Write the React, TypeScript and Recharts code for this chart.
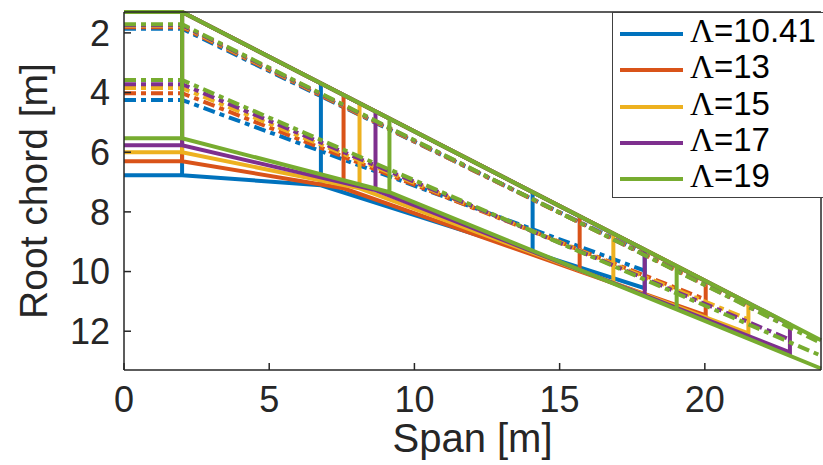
import React from 'react';
import { LineChart, Line, XAxis, YAxis, Legend } from 'recharts';

// one wing per aspect ratio
const labels = ['10.41', '13', '15', '17', '19'];
const colors = ['#0072BD', '#D95319', '#EDB120', '#7E2F8E', '#77AC30'];

const xTicks = [0, 5, 10, 15, 20];
const yTicks = [2, 4, 6, 8, 10, 12];

// span stations [m]
const fuselageX = 2;
const kinkX = [6.78, 7.56, 8.11, 8.66, 9.14];
const ribX = [14.07, 15.69, 16.85, 17.93, 19.03];
const tipX = [17.93, 20.03, 21.5, 22.93, 24]; // green tip lies past the axis edge

// leading edge
const leRoot = 1.3;
const leKink = [3.69, 4.08, 4.36, 4.63, 4.87];
const leRib = [7.34, 8.15, 8.73, 9.27, 9.82];
const leTip = [9.27, 10.32, 11.05, 11.77, 12.3];

// trailing edge
const teRoot = [6.77, 6.3, 6.0, 5.77, 5.53];
const teKink = [7.11, 7.21, 7.21, 7.27, 7.34];
const teRib = [9.36, 9.99, 10.38, 10.8, 11.27];
const teTip = [10.56, 11.47, 12.07, 12.71, 13.25];

// spars (dash-dot)
const frontSparRoot = [1.86, 1.81, 1.77, 1.74, 1.71];
const frontSparTip = [9.4, 10.44, 11.15, 11.86, 12.4];
const rearSparRoot = [4.25, 4.02, 3.85, 3.72, 3.58];
const rearSparTip = [9.97, 10.94, 11.6, 12.28, 12.82];

const X_MAX = 24;
const FONT = '"Liberation Sans", Arial, Helvetica, sans-serif';
const AXIS_COLOR = '#262626';
const LINE_W = 4;
const DASH_DOT = '12 5 5 5';

type Pt = { x: number; y: number | null };
const gap = (x: number): Pt => ({ x, y: null });

function outline(i: number): Pt[] {
  const tipInView = tipX[i] < X_MAX;
  return [
    { x: 0, y: leRoot },
    { x: fuselageX, y: leRoot },
    { x: tipX[i], y: leTip[i] },
    ...(tipInView ? [] : [gap(tipX[i])]),
    { x: tipX[i], y: teTip[i] },
    { x: ribX[i], y: teRib[i] },
    { x: kinkX[i], y: teKink[i] },
    { x: fuselageX, y: teRoot[i] },
    { x: 0, y: teRoot[i] },
    gap(0),
    { x: fuselageX, y: leRoot },
    { x: fuselageX, y: teRoot[i] },
    gap(fuselageX),
    { x: kinkX[i], y: leKink[i] },
    { x: kinkX[i], y: teKink[i] },
    gap(kinkX[i]),
    { x: ribX[i], y: leRib[i] },
    { x: ribX[i], y: teRib[i] },
  ];
}

function spar(root: number[], tip: number[], i: number): Pt[] {
  return [
    { x: 0, y: root[i] },
    { x: fuselageX, y: root[i] },
    { x: tipX[i], y: tip[i] },
  ];
}

const LegendBox = () => (
  <div
    style={{
      width: 220,
      height: 186,
      boxSizing: 'border-box',
      background: '#fff',
      border: '1.5px solid #404040',
      paddingTop: 3,
      fontFamily: FONT,
    }}
  >
    {labels.map((l, i) => (
      <div key={l} style={{ display: 'flex', alignItems: 'center', height: 36.3 }}>
        <div style={{ marginLeft: 7, width: 63, height: 4, background: colors[i] }} />
        <span
          style={{
            marginLeft: 7,
            fontSize: 33,
            lineHeight: '36px',
            color: '#000',
            position: 'relative',
            top: -3,
          }}
        >
          <span style={{ fontFamily: '"Liberation Serif", "Times New Roman", serif' }}>Λ</span>={l}
        </span>
      </div>
    ))}
  </div>
);

export default function App() {
  const axisLine = { stroke: AXIS_COLOR, strokeWidth: 1.5 };
  const tickStyle = { fontSize: 36, fill: AXIS_COLOR, fontFamily: FONT };

  return (
    <div style={{ position: 'absolute', left: 0, top: 0, background: '#fff' }}>
      <LineChart width={823} height={465} margin={{ top: 0, right: 0, bottom: 0, left: 0 }}>
        <XAxis
          dataKey="x"
          type="number"
          domain={[0, X_MAX]}
          ticks={xTicks}
          interval={0}
          height={95}
          axisLine={axisLine}
          tickLine={axisLine}
          tickSize={-7}
          tickMargin={23}
          tick={tickStyle}
          label={{
            value: 'Span [m]',
            position: 'insideBottom',
            offset: 13,
            style: { fontSize: 40, fill: AXIS_COLOR, fontFamily: FONT },
          }}
        />
        <XAxis
          xAxisId="top"
          orientation="top"
          type="number"
          domain={[0, X_MAX]}
          allowDataOverflow
          ticks={xTicks}
          interval={0}
          height={12}
          axisLine={axisLine}
          tickLine={axisLine}
          tickSize={-7}
          tick={false}
        />
        <YAxis
          type="number"
          domain={[1.3, 13.3]}
          reversed
          ticks={yTicks}
          interval={0}
          width={124}
          axisLine={axisLine}
          tickLine={axisLine}
          tickSize={-7}
          tickMargin={21}
          tick={tickStyle}
          label={{
            value: 'Root chord [m]',
            angle: -90,
            position: 'insideLeft',
            offset: 33,
            style: { textAnchor: 'middle', fontSize: 39, fill: AXIS_COLOR, fontFamily: FONT },
          }}
        />
        <YAxis
          yAxisId="right"
          orientation="right"
          type="number"
          domain={[1.3, 13.3]}
          allowDataOverflow
          reversed
          ticks={yTicks}
          interval={0}
          width={2}
          axisLine={axisLine}
          tickLine={axisLine}
          tickSize={-7}
          tick={false}
        />
        <Legend
          layout="vertical"
          align="center"
          verticalAlign="middle"
          wrapperStyle={{ left: 612, top: 12, width: 220 }}
          content={() => <LegendBox />}
        />
        {labels.flatMap((l, i) => [
          <Line
            key={`wing-${l}`}
            data={outline(i)}
            dataKey="y"
            stroke={colors[i]}
            strokeWidth={LINE_W}
            dot={false}
            activeDot={false}
            type="linear"
            isAnimationActive={false}
          />,
          <Line
            key={`front-${l}`}
            data={spar(frontSparRoot, frontSparTip, i)}
            dataKey="y"
            stroke={colors[i]}
            strokeWidth={LINE_W}
            strokeDasharray={DASH_DOT}
            dot={false}
            activeDot={false}
            type="linear"
            isAnimationActive={false}
          />,
          <Line
            key={`rear-${l}`}
            data={spar(rearSparRoot, rearSparTip, i)}
            dataKey="y"
            stroke={colors[i]}
            strokeWidth={LINE_W}
            strokeDasharray={DASH_DOT}
            dot={false}
            activeDot={false}
            type="linear"
            isAnimationActive={false}
          />,
        ])}
      </LineChart>
    </div>
  );
}
